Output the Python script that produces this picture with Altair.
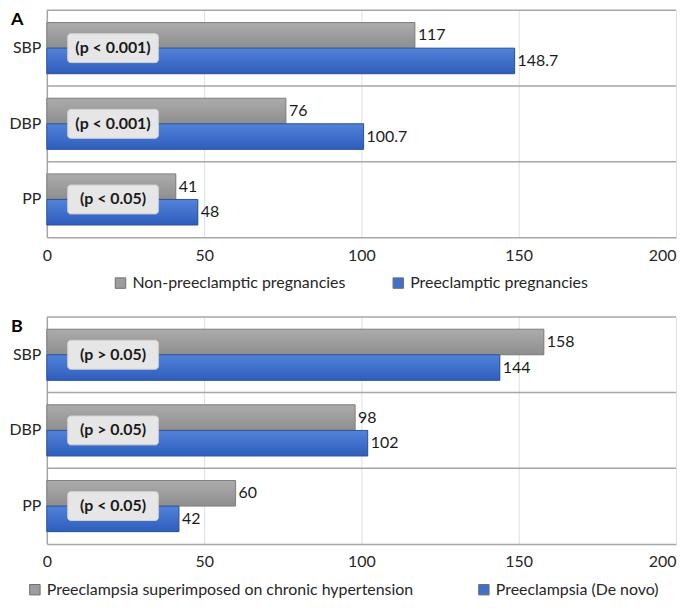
import altair as alt
import pandas as pd

categories = ["SBP", "DBP", "PP"]

# Panel A
series_a = ["Non-preeclamptic pregnancies", "Preeclamptic pregnancies"]
a_non = [117, 76, 41]
a_pre = [148.7, 100.7, 48]
p_a = ["(p < 0.001)", "(p < 0.001)", "(p < 0.05)"]

# Panel B
series_b = ["Preeclampsia superimposed on chronic hypertension", "Preeclampsia (De novo)"]
b_sup = [158, 98, 60]
b_dn = [144, 102, 42]
p_b = ["(p > 0.05)", "(p > 0.05)", "(p < 0.05)"]

x_ticks = [0, 50, 100, 150, 200]

FONT = "Lato"
FS = 16
GRAY_FILL = "#9d9d9d"
BLUE_FILL = "#4070cc"
gray_grad = alt.LinearGradient(gradient="linear", x1=0, x2=0, y1=0, y2=1,
                               stops=[alt.GradientStop(color="#acacac", offset=0),
                                      alt.GradientStop(color="#8e8e8e", offset=1)])
blue_grad = alt.LinearGradient(gradient="linear", x1=0, x2=0, y1=0, y2=1,
                               stops=[alt.GradientStop(color="#5283d9", offset=0),
                                      alt.GradientStop(color="#2e5dbd", offset=1)])

W = 632
H = 228


def panel(letter, series, v1, v2, pvals, leg_x, col_pad):
    df = pd.DataFrame({
        "cat": categories * 2,
        "series": [series[0]] * 3 + [series[1]] * 3,
        "value": list(v1) + list(v2),
    })
    pdf = pd.DataFrame({"cat": categories, "p": pvals})
    cats = pd.DataFrame({"cat": categories})

    yscale = alt.Scale(domain=categories, paddingInner=0, paddingOuter=0)
    y = alt.Y("cat:N", scale=yscale, sort=categories,
              axis=alt.Axis(title=None, ticks=False, labelFontSize=FS, labelFont=FONT,
                            labelColor="#262626", labelPadding=6, domainColor="#a6a6a6",
                            domainWidth=1.5, grid=False))
    yoff = alt.YOffset("series:N", scale=alt.Scale(domain=series, paddingInner=0, paddingOuter=0.48),
                       sort=series)
    x = alt.X("value:Q", scale=alt.Scale(domain=[0, 200], nice=False),
              axis=alt.Axis(title=None, values=x_ticks, ticks=False, labelFontSize=FS,
                            labelFont=FONT, labelColor="#262626", labelPadding=10,
                            gridColor="#dcdfe8", gridWidth=1, domainColor="#a6a6a6",
                            domainWidth=1.5,
                            labelAlign=alt.condition("datum.value == 200", alt.value("right"),
                                                     alt.value("center"))))

    base = alt.Chart(df)
    legend_bars = base.mark_bar(strokeWidth=1).encode(
        y=y, yOffset=yoff, x=x,
        color=alt.Color("series:N", sort=series,
                        scale=alt.Scale(domain=series, range=[GRAY_FILL, BLUE_FILL]),
                        legend=alt.Legend(title=None, orient="none", direction="horizontal",
                                          legendX=leg_x, legendY=H + 38,
                                          labelFontSize=FS, labelFont=FONT, labelColor="#262626",
                                          symbolType="square", symbolSize=110,
                                          symbolStrokeColor="#6f6f6f", symbolStrokeWidth=1,
                                          columnPadding=col_pad, labelLimit=500)),
    )
    g_bar = base.transform_filter(alt.datum.series == series[0]).mark_bar(
        fill=gray_grad, stroke="#7f7f7f", strokeWidth=1).encode(y=y, yOffset=yoff, x=x)
    b_bar = base.transform_filter(alt.datum.series == series[1]).mark_bar(
        fill=blue_grad, stroke="#2f5597", strokeWidth=1).encode(y=y, yOffset=yoff, x=x)
    labels = base.mark_text(align="left", baseline="middle", dx=3, fontSize=FS, font=FONT,
                            color="#1a1a1a").encode(y=y, yOffset=yoff, x=x,
                                                     text=alt.Text("value:Q"))

    seps = alt.Chart(cats).mark_rule(color="#a6a6a6", strokeWidth=1.5).encode(
        y=alt.Y("cat:N", scale=yscale, sort=categories, bandPosition=0))

    pbase = alt.Chart(pdf)
    box = pbase.mark_bar(size=29, cornerRadius=3, color="#e6e6e6", stroke="#d2d2d2",
                         strokeWidth=1).encode(
        y=alt.Y("cat:N", scale=yscale, sort=categories),
        x=alt.value(21), x2=alt.value(112))
    ptext = pbase.mark_text(fontSize=FS, fontWeight="bold", font=FONT, color="#1a1a1a",
                            align="center", baseline="middle").encode(
        y=alt.Y("cat:N", scale=yscale, sort=categories),
        x=alt.value(66.5), text="p:N")

    letter_txt = alt.Chart(pd.DataFrame({"t": [letter]})).mark_text(
        align="left", baseline="top", fontSize=18, fontWeight="bold", font=FONT,
        color="#000000").encode(x=alt.value(-36), y=alt.value(1), text="t:N")

    return alt.layer(legend_bars, g_bar, b_bar, labels, seps, box, ptext,
                     letter_txt).properties(width=W, height=H)


chart = alt.vconcat(
    panel("A", series_a, a_non, a_pre, p_a, 66, 44),
    panel("B", series_b, b_sup, b_dn, p_b, -20, 62),
    spacing=25,
).resolve_scale(color="independent", y="independent", yOffset="independent"
).resolve_legend(color="independent").properties(padding=0).configure_view(stroke=None)

chart.save("out.html", embed_options={"renderer": "svg", "actions": False})
